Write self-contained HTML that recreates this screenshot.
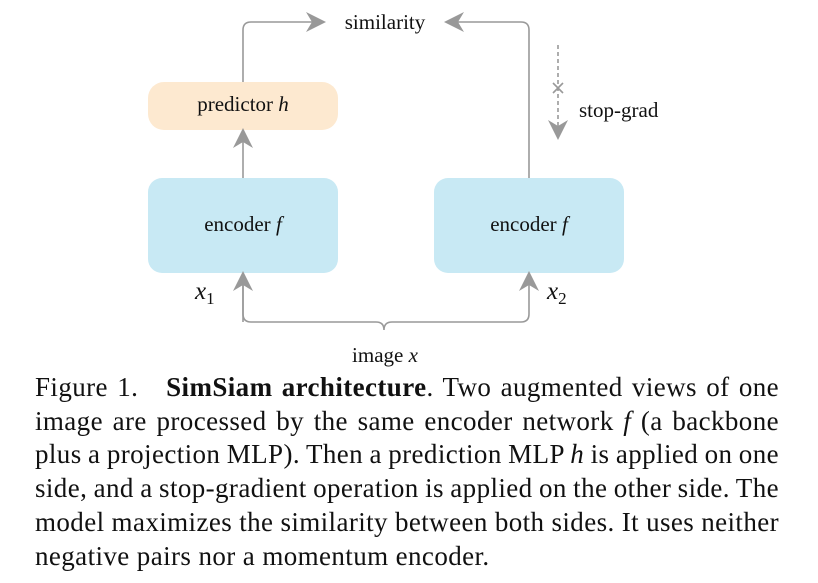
<!DOCTYPE html>
<html><head><style>
body{margin:0;width:818px;height:583px;background:#fff;overflow:hidden;font-family:"Liberation Serif",serif;}
.cap{position:absolute;left:35px;top:371px;width:744px;font-size:27px;line-height:33.7px;color:#111;letter-spacing:0.4px;}
.cap div{text-align:justify;text-align-last:justify;white-space:nowrap;word-spacing:-2px;}
.cap div.l{text-align-last:left;word-spacing:0;}
</style></head><body>
<svg width="818" height="370" style="position:absolute;left:0;top:0" font-family="Liberation Serif, serif">
<defs>
<marker id="b" viewBox="0 0 10 10" refX="9" refY="5" markerWidth="20" markerHeight="20" markerUnits="userSpaceOnUse" orient="auto"><path d="M0,0 L10,5 L0,10 L3,5z" fill="#999"/></marker></defs>
<rect x="148" y="82" width="190" height="48" rx="16" fill="#fde9d0"/>
<rect x="148" y="178" width="190" height="95" rx="14" fill="#c8e9f4"/>
<rect x="434" y="178" width="190" height="95" rx="14" fill="#c8e9f4"/>
<g fill="none" stroke="#999" stroke-width="1.6">
<path d="M243,82 V30 Q243,22 251,22 H324" marker-end="url(#b)"/>
<path d="M529,178 V30 Q529,22 521,22 H446" marker-end="url(#b)"/>
<path d="M243,178 V130" marker-end="url(#b)"/>
<path d="M558,45 V138" stroke-dasharray="4,3" marker-end="url(#b)"/>
<path d="M553,83 L563,93 M563,83 L553,93"/>
<path d="M243,273 V314 Q243,322 251,322 H376 Q384,322 384,330 Q384,322 392,322 H521 Q529,322 529,314 V273" marker-end="url(#b)"/>
<path d="M243,322 V273" marker-end="url(#b)"/>
</g>
<g font-size="21" fill="#111">
<text x="385" y="29" text-anchor="middle">similarity</text>
<text x="243" y="111" text-anchor="middle">predictor <tspan font-style="italic">h</tspan></text>
<text x="243" y="231" text-anchor="middle">encoder <tspan font-style="italic">f</tspan></text>
<text x="529" y="231" text-anchor="middle">encoder <tspan font-style="italic">f</tspan></text>
<text x="579" y="117">stop-grad</text>
<text x="385" y="362" text-anchor="middle">image <tspan font-style="italic">x</tspan></text>
<text x="195" y="299" font-size="25" font-style="italic">x<tspan font-size="17" font-style="normal" dy="5">1</tspan></text>
<text x="547" y="299" font-size="25" font-style="italic">x<tspan font-size="17" font-style="normal" dy="5">2</tspan></text>
</g>
</svg>
<div class="cap">
<div>Figure 1.&nbsp;&nbsp; <b>SimSiam architecture</b>. Two augmented views of one</div>
<div>image are processed by the same encoder network <i>f</i> (a backbone</div>
<div>plus a projection MLP). Then a prediction MLP <i>h</i> is applied on one</div>
<div>side, and a stop-gradient operation is applied on the other side. The</div>
<div>model maximizes the similarity between both sides. It uses neither</div>
<div class="l">negative pairs nor a momentum encoder.</div>
</div>
</body></html>
